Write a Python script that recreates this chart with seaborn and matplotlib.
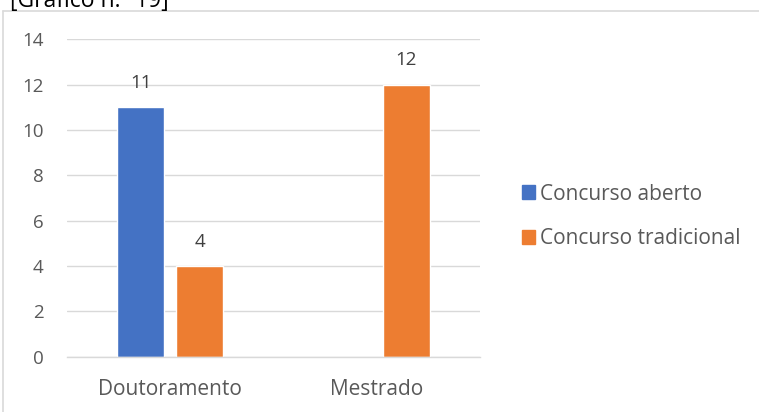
import matplotlib
matplotlib.use("Agg")
import matplotlib.pyplot as plt
import seaborn as sns
import pandas as pd
from matplotlib.lines import Line2D

categories = ["Doutoramento", "Mestrado"]
series_names = ["Concurso aberto", "Concurso tradicional"]
concurso_aberto = [11, None]
concurso_tradicional = [4, 12]
y_ticks = [0, 2, 4, 6, 8, 10, 12, 14]
title_text = "[Gráfico n.º 19]"

rows = []
for cat, a, t in zip(categories, concurso_aberto, concurso_tradicional):
    if a is not None:
        rows.append({"cat": cat, "serie": series_names[0], "valor": a})
    if t is not None:
        rows.append({"cat": cat, "serie": series_names[1], "valor": t})
df = pd.DataFrame(rows)

sns.set_theme(style="white")
plt.rcParams["font.family"] = ["Open Sans", "DejaVu Sans"]
FS = 13.5
FS_WORDS = 15

fig = plt.figure(figsize=(7.59, 4.12), dpi=100)
ax = fig.add_axes([67 / 759, 1 - 356.7 / 412, (480 - 67) / 759, (356.7 - 39.3) / 412])

palette = {series_names[0]: "#4472C4", series_names[1]: "#ED7D31"}
sns.barplot(data=df, x="cat", y="valor", hue="serie", order=categories,
            hue_order=series_names, palette=palette, width=0.571, gap=0.203,
            ax=ax, legend=False, saturation=1)

ax.set_ylim(0, 14)
ax.set_xlim(-0.5, 1.5)
ax.set_yticks(y_ticks)
ax.yaxis.grid(True, color="#D9D9D9", linewidth=1)
ax.set_axisbelow(True)
for s in ["top", "right", "left"]:
    ax.spines[s].set_visible(False)
ax.spines["bottom"].set_color("#D9D9D9")
ax.spines["bottom"].set_linewidth(1)
ax.set_xlabel("")
ax.set_ylabel("")
ax.tick_params(axis="both", length=0, labelsize=FS, colors="#595959")
ax.tick_params(axis="x", labelsize=FS_WORDS, pad=16)
ax.tick_params(axis="y", pad=17)

for cont in ax.containers:
    labels = []
    for v in cont.datavalues:
        labels.append("" if pd.isna(v) else f"{int(v)}")
    ax.bar_label(cont, labels=labels, padding=11, fontsize=FS, color="#404040")

handles = [plt.Rectangle((0, 0), 1, 1, color=palette[n]) for n in series_names]
fig.legend(handles, series_names, loc="center left", bbox_to_anchor=(503 / 759, 1 - 216.5 / 412),
           frameon=False, fontsize=FS_WORDS, handlelength=0.62, handleheight=0.62,
           handletextpad=0.25, labelspacing=1.15, labelcolor="#595959")

fig.add_artist(Line2D([3 / 759, 3 / 759], [0, 1 - 10.7 / 412], transform=fig.transFigure,
                      color="#D9D9D9", linewidth=1.2))
fig.add_artist(Line2D([3 / 759, 1], [1 - 10.7 / 412, 1 - 10.7 / 412], transform=fig.transFigure,
                      color="#D9D9D9", linewidth=1.2))
fig.text(10 / 759, 1 - 7 / 412, title_text, fontsize=16.5, color="#000000", va="baseline", ha="left")

fig.savefig("out.png", dpi=100)
